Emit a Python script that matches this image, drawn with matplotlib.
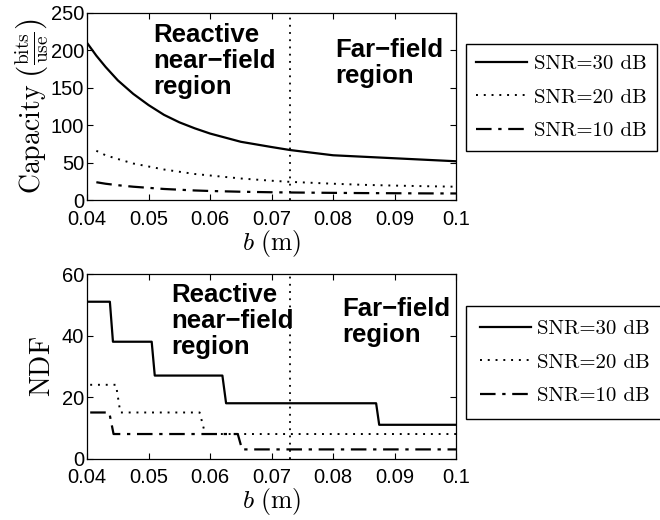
import numpy as np
import matplotlib
matplotlib.use("Agg")
import matplotlib.pyplot as plt

plt.rcParams['font.family'] = ['Liberation Sans', 'DejaVu Sans']
plt.rcParams['mathtext.fontset'] = 'cm'

# capacity versus aperture b
b_cap = [0.040, 0.0415, 0.043, 0.045, 0.0475, 0.050, 0.0525, 0.055, 0.0575, 0.060,
         0.065, 0.070, 0.073, 0.080, 0.085, 0.090, 0.095, 0.100]
cap_30 = [210, 193, 178, 160, 142, 127, 114, 104, 96, 89, 78, 71, 67, 60, 58, 56, 54, 52]
# the two lower curves start at b = 0.0415
cap_20 = [66, 60, 55, 49, 45, 41, 38, 35, 33, 29, 26, 24.5, 22, 20.5, 19.5, 18.7, 18]
cap_10 = [24, 22, 20, 18, 16.5, 15, 14, 13, 12.3, 11.3, 10.6, 10.3, 9.8, 9.5, 9.3, 9.1, 9]

# number of degrees of freedom (staircase)
b_ndf_30 = [0.040, 0.0437, 0.0442, 0.0505, 0.0510, 0.0620, 0.0626, 0.0870, 0.0875, 0.100]
ndf_30 = [51, 51, 38, 38, 27, 27, 18, 18, 11, 11]
b_ndf_20 = [0.0405, 0.0447, 0.0454, 0.0583, 0.0592, 0.100]
ndf_20 = [24, 24, 15, 15, 8, 8]
b_ndf_10 = [0.0405, 0.0436, 0.0443, 0.0645, 0.0652, 0.100]
ndf_10 = [15, 15, 8, 8, 3, 3]

b_boundary = 0.073
labels = ['SNR=30 dB', 'SNR=20 dB', 'SNR=10 dB']
styles = [dict(ls='-', lw=1.6), dict(ls=(0, (1, 3)), lw=1.4),
          dict(ls=(0, (7, 3, 1.5, 3)), lw=1.6)]

fig = plt.figure(figsize=(6.6, 5.2), dpi=100)
ax1 = fig.add_axes([0.132, 0.615, 0.559, 0.36])
ax2 = fig.add_axes([0.132, 0.118, 0.559, 0.355])

for ys, st, lab in zip([cap_30, cap_20, cap_10], styles, labels):
    ax1.plot(b_cap[len(b_cap) - len(ys):], ys, color='k', label=lab, **st)
for xs, ys, st, lab in zip([b_ndf_30, b_ndf_20, b_ndf_10], [ndf_30, ndf_20, ndf_10],
                           styles, labels):
    ax2.plot(xs, ys, color='k', label=lab, **st)

# region annotations: (near-field x, top y, far-field x, centre y)
notes = {ax1: (0.0507, 236, 0.0803, 183), ax2: (0.0537, 57, 0.0815, 44.5)}

for ax, ylim, yt in [(ax1, 250, np.arange(0, 251, 50)), (ax2, 60, np.arange(0, 61, 20))]:
    ax.axvline(b_boundary, color='k', ls=(0, (1, 3)), lw=1.3)
    ax.set_xlim(0.04, 0.1)
    ax.set_ylim(0, ylim)
    ax.set_yticks(yt)
    ax.set_xticks([0.04, 0.05, 0.06, 0.07, 0.08, 0.09, 0.1])
    ax.set_xticklabels(['0.04', '0.05', '0.06', '0.07', '0.08', '0.09', '0.1'])
    ax.tick_params(direction='in', top=True, right=True, labelsize=14.5, length=4,
                   width=0.8)
    ax.tick_params(axis='x', pad=7)
    ax.tick_params(axis='y', pad=2)
    for s in ax.spines.values():
        s.set_linewidth(0.9)
    ax.set_xlabel(r'$b\ \mathrm{(m)}$', fontsize=18.5, labelpad=-1)
    xn, yn, xf, yf = notes[ax]
    ax.text(xn, yn, 'Reactive\nnear\u2212field\nregion', fontsize=18.5,
            fontweight='bold', va='top', ha='left', linespacing=1.1)
    ax.text(xf, yf, 'Far\u2212field\nregion', fontsize=18.5, fontweight='bold',
            va='center', ha='left', linespacing=1.1)

ax1.set_ylabel(r'$\mathrm{Capacity}\ \left(\frac{\mathrm{bits}}{\mathrm{use}}\right)$',
               fontsize=20, labelpad=0)
ax2.set_ylabel(r'$\mathrm{NDF}$', fontsize=20, labelpad=4)

for ax, top, pad in [(ax1, 1 - 44 / 520, 0.5), (ax2, 1 - 306 / 520, 0.65)]:
    leg = ax.legend(loc='upper left', bbox_to_anchor=(466 / 660, top),
                    bbox_transform=fig.transFigure, borderaxespad=0,
                    prop={'family': 'cmr10', 'size': 15},
                    fancybox=False, edgecolor='k', framealpha=1,
                    handlelength=2.45, handletextpad=0.3, labelspacing=0.72,
                    borderpad=pad)
    leg.get_frame().set_linewidth(1.0)

fig.savefig('out.png', dpi=100)
